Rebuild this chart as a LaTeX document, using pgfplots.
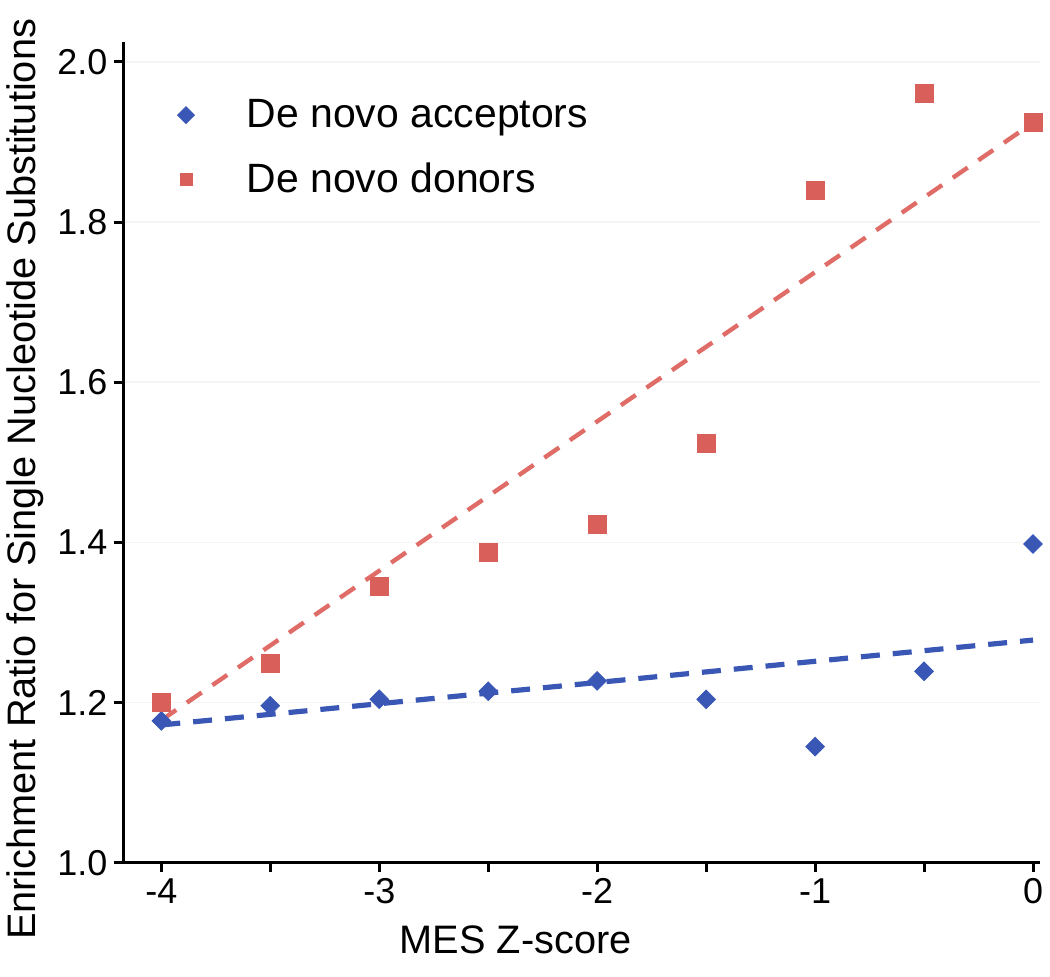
\documentclass[border=0pt]{standalone}
\usepackage{pgfplots}
\pgfplotsset{compat=1.18}
\usepackage{fontspec}
\setmainfont{Liberation Sans}
\definecolor{accblue}{HTML}{3A57B6}
\definecolor{donred}{HTML}{D95F5A}
\definecolor{donline}{HTML}{E06C68}
\begin{document}
\begin{tikzpicture}
\begin{axis}[
  scale only axis,
  width=459pt, height=411pt,
  xmin=-4.174, xmax=0.032,
  ymin=1.0, ymax=2.025,
  axis x line*=bottom, axis y line*=left,
  axis line style={line width=1.5pt, -},
  xtick={-4,-3,-2,-1,0},
  minor xtick={-3.5,-2.5,-1.5,-0.5},
  ytick={1.0,1.2,1.4,1.6,1.8,2.0},
  yticklabel style={/pgf/number format/.cd, fixed, fixed zerofill, precision=1},
  /pgf/number format/assume math mode=true,
  tick style={line width=1.5pt, black},
  major tick length=4.5pt, minor tick length=4.5pt,
  tick align=outside,
  ticklabel style={font=\fontsize{18}{20}\selectfont},
  xlabel={MES Z-score},
  ylabel={Enrichment Ratio for Single Nucleotide Substitutions},
  label style={font=\fontsize{19.9}{22}\selectfont},
  x label style={at={(ticklabel cs:0.428)}, anchor=north, yshift=-4pt},
  y label style={at={(ticklabel cs:0.467)}, anchor=south, yshift=0pt},
  ymajorgrids, grid style={black!4, line width=0.8pt},
  clip=false,
  legend style={at={(0.052,0.940)}, anchor=north west, draw=none, fill=none,
    font=\fontsize{20.5}{24}\selectfont, row sep=12pt},
  legend cell align=left,
  legend image code/.code={\path[draw=none] (0cm,0cm) -- (1.12cm,0cm); \draw[#1, mark size=3pt] plot coordinates {(0.12cm,0cm)};},
]
\addplot[only marks, mark=square*, mark size=3.3pt, accblue, mark options={fill=accblue, draw=accblue, rotate=45}]
  coordinates {(-4,1.177) (-3.5,1.196) (-3,1.204) (-2.5,1.214) (-2,1.227) (-1.5,1.204) (-1,1.145) (-0.5,1.239) (0,1.398)};
\addlegendentry{De novo acceptors}
\addplot[only marks, mark=square*, mark size=4.5pt, donred, mark options={fill=donred, draw=donred}]
  coordinates {(-4,1.200) (-3.5,1.249) (-3,1.345) (-2.5,1.388) (-2,1.423) (-1.5,1.524) (-1,1.839) (-0.5,1.961) (0,1.924)};
\addlegendentry{De novo donors}
\addplot[forget plot, donline, line width=2.2pt, dash pattern=on 9pt off 6.5pt]
  coordinates {(-4,1.178) (0,1.924)};
\addplot[forget plot, accblue, line width=2.6pt, dash pattern=on 9.5pt off 6.5pt]
  coordinates {(-4,1.172) (0,1.278)};
\end{axis}
\path (current axis.south west) ++(-61pt,-57pt) coordinate (bbA);
\path (current axis.north east) ++(5pt,21pt) coordinate (bbB);
\path (bbA) rectangle (bbB);
\end{tikzpicture}
\end{document}
